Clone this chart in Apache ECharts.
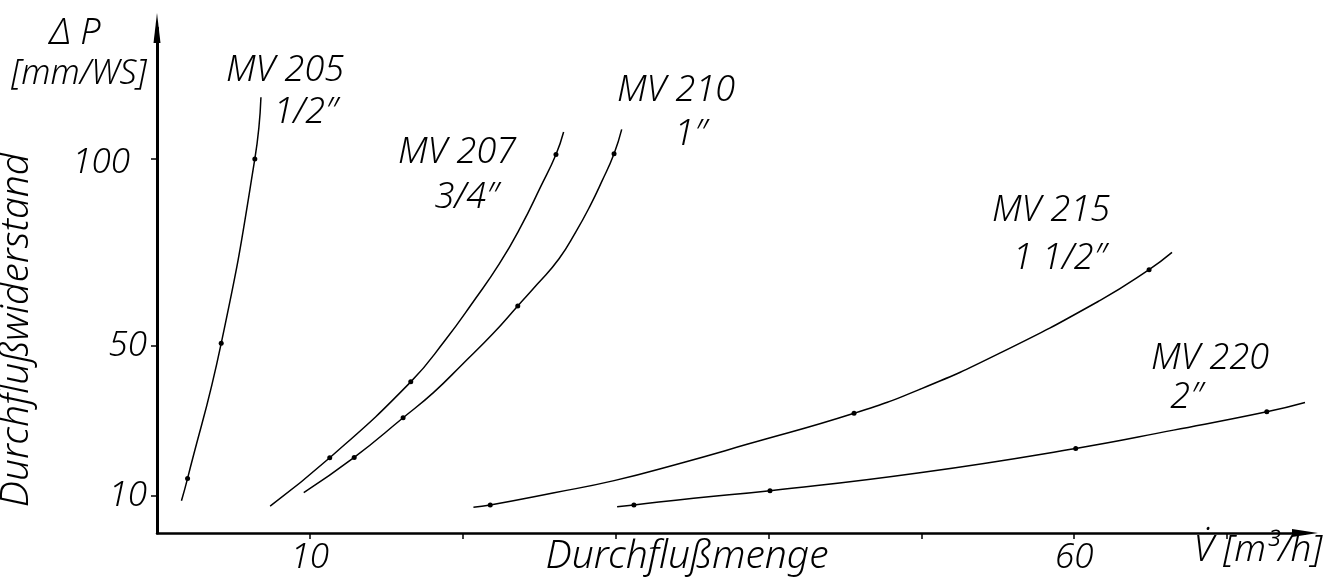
<!DOCTYPE html>
<html>
<head>
<meta charset="utf-8">
<title>Durchflußwiderstand</title>
<script src="https://cdn.jsdelivr.net/npm/echarts@6/dist/echarts.min.js"></script>
<style>
  html, body { margin: 0; padding: 0; background: #fff; }
  #chart { width: 1336px; height: 578px; }
</style>
</head>
<body>
<div id="chart"></div>
<script>
// Durchflußmenge V [m3/h] und Durchflußwiderstand dP [mm WS]
// ...Pts: 1 = Messpunkt (Punkt gezeichnet), 0 = nur Kurve
const mv205X = [1.6, 2.0, 4.2, 6.4, 6.8]
const mv205Y = [8.6, 14.6, 50.7, 100, 116.5]
const mv205Pts = [0, 1, 1, 1, 0]

const mv207X = [7.4, 11.3, 16.6, 18.9, 20.7, 22.4, 23.8, 25.1, 26.1, 26.6]
const mv207Y = [7.2, 20.1, 40.4, 51.8, 61.9, 72.0, 81.9, 92.6, 101.2, 107.2]
const mv207Pts = [0, 1, 1, 0, 0, 0, 0, 0, 1, 0]

const mv210X = [9.6, 12.9, 16.1, 18.1, 20.0, 22.0, 23.6, 24.9, 26.3, 27.4, 28.3, 29.1, 29.9, 30.4]
const mv210Y = [10.8, 20.2, 30.8, 37.6, 45.2, 53.4, 60.7, 66.6, 73.3, 80.5, 87.2, 94.0, 101.4, 107.9]
const mv210Pts = [0, 1, 1, 0, 0, 0, 1, 0, 0, 0, 0, 0, 1, 0]

const mv215X = [20.7, 21.8, 25.9, 29.9, 34.2, 38.6, 45.6, 49.9, 55.1, 61.7, 64.9, 66.4]
const mv215Y = [6.9, 7.5, 10.7, 14.0, 18.6, 23.7, 32.0, 38.4, 48.0, 62.2, 70.4, 75.0]
const mv215Pts = [0, 1, 0, 0, 0, 0, 1, 0, 0, 0, 1, 0]

const mv220X = [30.1, 31.2, 35.1, 40.1, 49.9, 60.1, 66.5, 72.6, 75.1]
const mv220Y = [7.0, 7.5, 9.3, 11.3, 16.1, 22.6, 27.5, 32.4, 34.9]
const mv220Pts = [0, 1, 0, 1, 0, 1, 0, 1, 0]

const xTicks = [10, 20, 30, 40, 50, 60, 70]
const xLabels = [10, 60]
const yTicks = [10, 50, 100]

const FONT = 'Noto Sans'
const WEIGHT = 300

// Kurve mit Punkten nur an den Messwerten
function curve(name, xs, ys, pts) {
  return {
    name: name,
    type: 'line',
    smooth: 0.5,
    showSymbol: true,
    symbolSize: 5,
    itemStyle: { color: '#000' },
    lineStyle: { color: '#000', width: 1.5 },
    data: xs.map((x, i) => ({
      value: [x, ys[i]],
      symbol: pts[i] ? 'circle' : 'none'
    })),
    z: 3
  }
}

function txt(str, x, y, size, rot) {
  return {
    type: 'text',
    x: x,
    y: y,
    rotation: rot || 0,
    style: {
      text: str,
      fill: '#000',
      fontFamily: FONT,
      fontStyle: 'italic',
      fontWeight: WEIGHT,
      fontSize: size,
      textAlign: 'center',
      textVerticalAlign: 'middle',
      align: 'center',
      verticalAlign: 'middle'
    }
  }
}

const chart = echarts.init(document.getElementById('chart'), null, { renderer: 'canvas' })

let option = {
  backgroundColor: '#fff',
  animation: false,
  grid: { left: 157, right: 31, top: 28, bottom: 45, containLabel: false },
  xAxis: {
    type: 'value',
    min: 0,
    max: 75.1,
    splitLine: { show: false },
    axisLine: {
      onZero: false,
      symbol: ['none', 'triangle'],
      symbolSize: [8, 26],
      lineStyle: { color: '#000', width: 2.5 }
    },
    axisTick: { show: true, customValues: xTicks, length: 6, lineStyle: { color: '#000', width: 1.5 } },
    axisLabel: {
      customValues: xLabels,
      margin: 8,
      color: '#000',
      fontFamily: FONT,
      fontStyle: 'italic',
      fontWeight: WEIGHT,
      fontSize: 35
    }
  },
  yAxis: {
    type: 'value',
    min: 0,
    max: 135,
    splitLine: { show: false },
    axisLine: {
      onZero: false,
      symbol: ['none', 'triangle'],
      symbolSize: [7, 30],
      lineStyle: { color: '#000', width: 3 }
    },
    axisTick: { show: true, customValues: yTicks, length: 6, lineStyle: { color: '#000', width: 1.5 } },
    axisLabel: {
      customValues: yTicks,
      margin: 10,
      color: '#000',
      fontFamily: FONT,
      fontStyle: 'italic',
      fontWeight: WEIGHT,
      fontSize: 35,
      formatter: v => v === 100 ? '{w|100}' : String(v),
      rich: {
        w: {
          color: '#000', fontFamily: FONT, fontStyle: 'italic', fontWeight: WEIGHT,
          fontSize: 35, padding: [8, 17, 0, 0]
        }
      }
    }
  },
  series: [
    curve('MV 205', mv205X, mv205Y, mv205Pts),
    curve('MV 207', mv207X, mv207Y, mv207Pts),
    curve('MV 210', mv210X, mv210Y, mv210Pts),
    curve('MV 215', mv215X, mv215Y, mv215Pts),
    curve('MV 220', mv220X, mv220Y, mv220Pts)
  ],
  graphic: [
    txt('Δ P', 75, 34, 36),
    txt('[mm/WS]', 79, 74, 34),
    txt('Durchflußwiderstand', 17, 330, 39, Math.PI / 2),
    txt('MV 205', 285, 71, 36),
    txt('1/2″', 306, 113, 36),
    txt('MV 207', 457, 153, 36),
    txt('3/4″', 467, 198, 36),
    txt('MV 210', 676, 91, 36),
    txt('1″', 691, 135, 36),
    txt('MV 215', 1051, 211, 36),
    txt('1 1/2″', 1060, 259, 36),
    txt('MV 220', 1210, 359, 36),
    txt('2″', 1187, 398, 36),
    txt('Durchflußmenge', 687, 557, 39),
    txt('V̇ [m³/h]', 1258, 550, 37)
  ]
}

chart.setOption(option)
</script>
</body>
</html>
